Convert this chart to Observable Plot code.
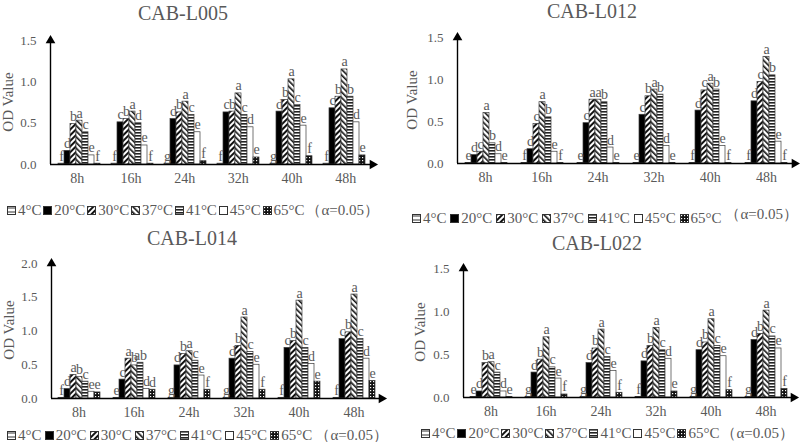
<!DOCTYPE html>
<html>
<head>
<meta charset="utf-8">
<script src="https://cdn.jsdelivr.net/npm/d3@7"></script>
<script src="https://cdn.jsdelivr.net/npm/@observablehq/plot@0.6"></script>
<style>
  body { margin: 0; background: #fff; }
  #root { position: relative; width: 800px; height: 442px; overflow: hidden;
          font-family: "Liberation Serif", "DejaVu Serif", serif; color: #595959; }
  .abs { position: absolute; white-space: nowrap; }
  .title { font-size: 20px; transform: translate(-50%, -50%); line-height: 1; }
  .ylab { font-size: 15px; transform: translate(-50%, -50%) rotate(-90deg); line-height: 1; }
  .legend { display: flex; justify-content: space-between; align-items: center; height: 18px; font-size: 15px; }
  .item { display: flex; align-items: center; }
  .item svg { margin-right: 2px; }
  .plot { position: absolute; }
</style>
</head>
<body>
<svg width="0" height="0" style="position:absolute">
  <defs>
    <pattern id="p4" patternUnits="userSpaceOnUse" width="4" height="4">
      <rect width="4" height="4" fill="#fff"/><rect y="1.5" width="4" height="1" fill="#333"/>
    </pattern>
    <pattern id="p30" patternUnits="userSpaceOnUse" width="4" height="4" patternTransform="rotate(45)">
      <rect width="4" height="4" fill="#fff"/><rect width="2" height="4" fill="#111"/>
    </pattern>
    <pattern id="p37" patternUnits="userSpaceOnUse" width="4" height="4" patternTransform="rotate(-45)">
      <rect width="4" height="4" fill="#fff"/><rect width="1.6" height="4" fill="#111"/>
    </pattern>
    <pattern id="p41" patternUnits="userSpaceOnUse" width="3" height="3">
      <rect width="3" height="3" fill="#fff"/><rect width="3" height="1.6" fill="#222"/>
    </pattern>
    <pattern id="p65" patternUnits="userSpaceOnUse" width="3" height="3">
      <rect width="3" height="3" fill="#111"/><rect x="1" y="1" width="1.2" height="1.2" fill="#fff"/>
    </pattern>
  </defs>
</svg>
<div id="root"></div>
<script>
// ---------- data ----------
const times = ["8h", "16h", "24h", "32h", "40h", "48h"];
const temps = ["4°C", "20°C", "30°C", "37°C", "41°C", "45°C", "65°C"];
const alphaText = "（α=0.05）";

// rows = times, columns = temps
const L005 = [
  [0.01, 0.165, 0.49, 0.53, 0.39, 0.11, 0.01],
  [0.01, 0.51, 0.55, 0.64, 0.50, 0.23, 0.01],
  [0.01, 0.55, 0.63, 0.76, 0.60, 0.39, 0.04],
  [0.01, 0.63, 0.64, 0.86, 0.60, 0.45, 0.085],
  [0.01, 0.64, 0.78, 1.03, 0.72, 0.47, 0.10],
  [0.01, 0.68, 0.82, 1.15, 0.82, 0.51, 0.11]
];
const L005sig = [
  ["f","d","b","a","c","e","f"],
  ["f","c","b","a","d","e","f"],
  ["g","d","b","a","c","e","f"],
  ["f","c","b","a","c","d","e"],
  ["g","d","b","a","c","e","f"],
  ["f","c","b","a","b","d","e"]
];
const L012 = [
  [0.005, 0.10, 0.14, 0.60, 0.24, 0.11, 0.005],
  [0.005, 0.17, 0.47, 0.73, 0.55, 0.14, 0.005],
  [0.005, 0.48, 0.76, 0.76, 0.73, 0.19, 0.005],
  [0.005, 0.58, 0.80, 0.88, 0.82, 0.21, 0.005],
  [0.005, 0.63, 0.87, 0.95, 0.88, 0.21, 0.005],
  [0.005, 0.74, 0.97, 1.27, 1.05, 0.26, 0.005]
];
const L012sig = [
  ["e","d","c","a","b","d","e"],
  ["f","d","c","a","b","e","f"],
  ["e","c","a","a","b","d","e"],
  ["e","c","b","a","b","d","e"],
  ["f","d","c","a","b","e","f"],
  ["f","d","c","a","b","e","f"]
];
const L014 = [
  [0.01, 0.14, 0.35, 0.32, 0.25, 0.10, 0.09],
  [0.01, 0.28, 0.59, 0.49, 0.53, 0.14, 0.13],
  [0.01, 0.49, 0.66, 0.70, 0.56, 0.34, 0.13],
  [0.01, 0.59, 0.78, 1.20, 0.69, 0.50, 0.13],
  [0.01, 0.75, 0.85, 1.45, 0.75, 0.51, 0.25],
  [0.01, 0.88, 0.98, 1.54, 0.88, 0.59, 0.26]
];
const L014sig = [
  ["f","d","a","b","c","e","e"],
  ["e","c","a","b","ab","d","d"],
  ["g","d","b","a","c","e","f"],
  ["g","d","b","a","c","e","f"],
  ["f","c","b","a","c","d","e"],
  ["f","c","b","a","c","d","e"]
];
const L022 = [
  [0.005, 0.07, 0.40, 0.41, 0.29, 0.07, 0.005],
  [0.005, 0.29, 0.44, 0.70, 0.35, 0.22, 0.035],
  [0.005, 0.40, 0.57, 0.79, 0.47, 0.31, 0.055],
  [0.005, 0.42, 0.60, 0.81, 0.55, 0.45, 0.07],
  [0.005, 0.55, 0.64, 0.91, 0.60, 0.48, 0.085],
  [0.005, 0.67, 0.74, 1.01, 0.71, 0.57, 0.10]
];
const L022sig = [
  ["e","d","b","a","c","d","e"],
  ["g","d","b","a","c","e","f"],
  ["g","d","b","a","c","e","f"],
  ["f","d","b","a","c","d","e"],
  ["g","d","b","a","c","e","f"],
  ["g","d","b","a","c","e","f"]
];
const ticks15 = [0, 0.5, 1.0, 1.5];
const ticks20 = [0, 0.5, 1.0, 1.5, 2.0];

// ---------- styles ----------
const fills = ["url(#p4)", "#000", "url(#p30)", "url(#p37)", "url(#p41)", "#fff", "url(#p65)"];
const textGray = "#595959";

const panels = [
  { name: "CAB-L005", values: L005, sig: L005sig, yTicks: ticks15,
    left: 0, top: 0, mL: 50, mR: 28, mT: 40, mB: 57,
    title: [183, 13], ylab: [8, 102], legend: { left: 7, right: 379, y: 210, alphaDy: 0 } },
  { name: "CAB-L012", values: L012, sig: L012sig, yTicks: ticks15,
    left: 400, top: 0, mL: 57, mR: 6, mT: 37, mB: 58,
    title: [592, 11], ylab: [412, 100], legend: { left: 412, right: 798, y: 218, alphaDy: -4 } },
  { name: "CAB-L014", values: L014, sig: L014sig, yTicks: ticks20,
    left: 0, top: 221, mL: 51, mR: 19, mT: 42, mB: 44,
    title: [192, 238], ylab: [9, 330], legend: { left: 7, right: 388, y: 435, alphaDy: 0 } },
  { name: "CAB-L022", values: L022, sig: L022sig, yTicks: ticks15,
    left: 400, top: 221, mL: 63, mR: 7, mT: 47, mB: 45,
    title: [597, 243], ylab: [420, 332], legend: { left: 421, right: 794, y: 433, alphaDy: 0 } }
];

const root = document.getElementById("root");

function addDiv(cls, html, style) {
  const d = document.createElement("div");
  d.className = "abs " + cls;
  d.innerHTML = html;
  Object.assign(d.style, style);
  root.appendChild(d);
  return d;
}

for (const p of panels) {
  const rows = [];
  times.forEach((t, i) => temps.forEach((c, j) =>
    rows.push({ time: t, temp: c, value: p.values[i][j], letter: p.sig[i][j] })));
  const yMax = p.yTicks[p.yTicks.length - 1];
  const common = {
    width: 400, height: 221,
    marginLeft: p.mL, marginRight: p.mR, marginTop: p.mT, marginBottom: p.mB,
    style: `background:none;overflow:visible;font-family:'Liberation Serif',serif;color:${textGray};`
  };

  const bars = Plot.plot({
    ...common,
    facet: { data: rows, x: "time" },
    fx: { domain: times, paddingInner: 0.15, paddingOuter: 0.075, axis: null },
    x: { domain: temps, padding: 0, axis: null },
    y: { domain: [0, yMax], axis: null },
    color: { type: "ordinal", domain: temps, range: fills },
    marks: [
      Plot.barY(rows, { x: "temp", y: "value", fill: "temp", stroke: "#3a3a3a", strokeWidth: 0.7 }),
      Plot.text(rows, { x: "temp", y: "value", text: "letter", lineAnchor: "bottom", dy: -3,
                        fill: textGray, fontSize: 14 })
    ]
  });

  const axes = Plot.plot({
    ...common,
    x: { type: "linear", domain: [0, times.length] },
    y: { domain: [0, yMax] },
    marks: [
      Plot.axisY({ ticks: p.yTicks, tickSize: 0, tickPadding: 14, tickFormat: d3.format(".1f"),
                   fontSize: 13, label: null }),
      Plot.axisX({ ticks: times.map((t, i) => i + 0.5), tickSize: 0, tickPadding: 9,
                   tickFormat: d => times[Math.floor(d)], fontSize: 14, label: null }),
      Plot.ruleY([0], { stroke: "#000", strokeWidth: 1.4 }),
      Plot.ruleX([0], { y1: 0, y2: yMax, stroke: "#000", strokeWidth: 1.4 }),
      Plot.dot([[0, yMax]], { x: d => d[0], y: d => d[1], symbol: "triangle", r: 3.6, fill: "#000", stroke: "none" }),
      Plot.dot([[times.length, 0]], { x: d => d[0], y: d => d[1], symbol: "triangle", r: 3.6, rotate: 90, fill: "#000", stroke: "none" })
    ]
  });

  for (const svg of [bars, axes]) {
    svg.classList.add("plot");
    svg.style.left = p.left + "px";
    svg.style.top = p.top + "px";
    root.appendChild(svg);
  }

  addDiv("title", p.name, { left: p.title[0] + "px", top: p.title[1] + "px" });
  addDiv("ylab", "OD Value", { left: p.ylab[0] + "px", top: p.ylab[1] + "px" });

  const lg = addDiv("legend", "", {
    left: p.legend.left + "px", width: (p.legend.right - p.legend.left) + "px",
    top: (p.legend.y - 9) + "px"
  });
  temps.forEach((c, j) => {
    const it = document.createElement("div");
    it.className = "item";
    it.innerHTML = `<svg width="9" height="9"><rect x="0.5" y="0.5" width="8" height="8" fill="${fills[j]}" stroke="#333"/></svg><span>${c}</span>`;
    lg.appendChild(it);
  });
  const al = document.createElement("div");
  al.className = "item";
  al.textContent = alphaText;
  al.style.transform = `translateY(${p.legend.alphaDy}px)`;
  lg.appendChild(al);
}
</script>
</body>
</html>
